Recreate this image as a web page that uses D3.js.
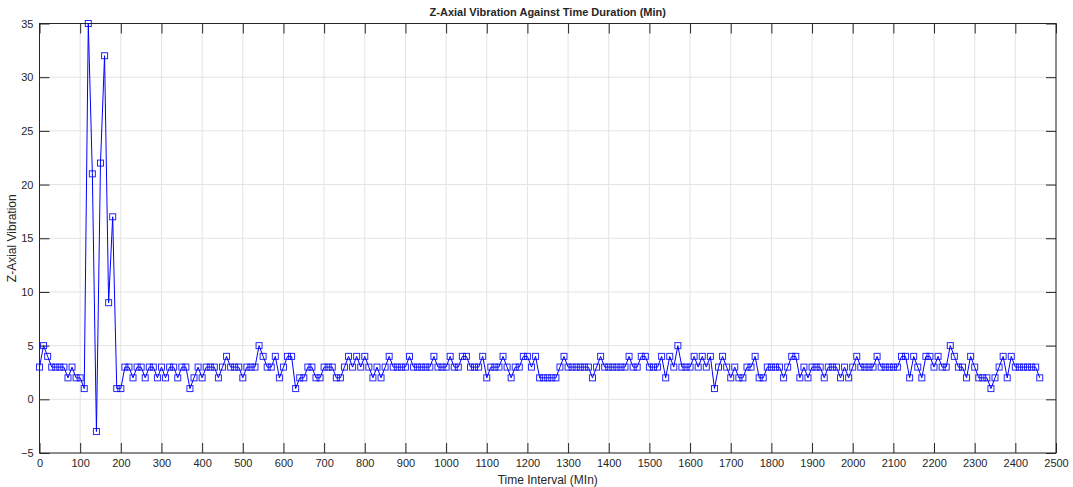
<!DOCTYPE html>
<html>
<head>
<meta charset="utf-8">
<script src="https://cdn.jsdelivr.net/npm/d3@7"></script>
<style>
  body { margin: 0; background: #fff; }
  svg text { font-family: "Liberation Sans", Arial, sans-serif; fill: #262626; }
</style>
</head>
<body>
<svg id="chart" width="1073" height="487"></svg>
<script>
// time of each sample (min)
const timeMin = [
  0, 10, 20, 30, 40, 50, 60, 70, 80, 90,
  100, 110, 120, 130, 140, 150, 160, 170, 180, 190,
  200, 210, 220, 230, 240, 250, 260, 270, 280, 290,
  300, 310, 320, 330, 340, 350, 360, 370, 380, 390,
  400, 410, 420, 430, 440, 450, 460, 470, 480, 490,
  500, 510, 520, 530, 540, 550, 560, 570, 580, 590,
  600, 610, 620, 630, 640, 650, 660, 670, 680, 690,
  700, 710, 720, 730, 740, 750, 760, 770, 780, 790,
  800, 810, 820, 830, 840, 850, 860, 870, 880, 890,
  900, 910, 920, 930, 940, 950, 960, 970, 980, 990,
  1000, 1010, 1020, 1030, 1040, 1050, 1060, 1070, 1080, 1090,
  1100, 1110, 1120, 1130, 1140, 1150, 1160, 1170, 1180, 1190,
  1200, 1210, 1220, 1230, 1240, 1250, 1260, 1270, 1280, 1290,
  1300, 1310, 1320, 1330, 1340, 1350, 1360, 1370, 1380, 1390,
  1400, 1410, 1420, 1430, 1440, 1450, 1460, 1470, 1480, 1490,
  1500, 1510, 1520, 1530, 1540, 1550, 1560, 1570, 1580, 1590,
  1600, 1610, 1620, 1630, 1640, 1650, 1660, 1670, 1680, 1690,
  1700, 1710, 1720, 1730, 1740, 1750, 1760, 1770, 1780, 1790,
  1800, 1810, 1820, 1830, 1840, 1850, 1860, 1870, 1880, 1890,
  1900, 1910, 1920, 1930, 1940, 1950, 1960, 1970, 1980, 1990,
  2000, 2010, 2020, 2030, 2040, 2050, 2060, 2070, 2080, 2090,
  2100, 2110, 2120, 2130, 2140, 2150, 2160, 2170, 2180, 2190,
  2200, 2210, 2220, 2230, 2240, 2250, 2260, 2270, 2280, 2290,
  2300, 2310, 2320, 2330, 2340, 2350, 2360, 2370, 2380, 2390,
  2400, 2410, 2420, 2430, 2440, 2450, 2460
];

// z-axial vibration reading at each sample
const zVibration = [
  3, 5, 4, 3, 3, 3, 3, 2, 3, 2,
  2, 1, 35, 21, -3, 22, 32, 9, 17, 1,
  1, 3, 3, 2, 3, 3, 2, 3, 3, 2,
  3, 2, 3, 3, 2, 3, 3, 1, 2, 3,
  2, 3, 3, 3, 2, 3, 4, 3, 3, 3,
  2, 3, 3, 3, 5, 4, 3, 3, 4, 2,
  3, 4, 4, 1, 2, 2, 3, 3, 2, 2,
  3, 3, 3, 2, 2, 3, 4, 3, 4, 3,
  4, 3, 2, 3, 2, 3, 4, 3, 3, 3,
  3, 4, 3, 3, 3, 3, 3, 4, 3, 3,
  3, 4, 3, 3, 4, 4, 3, 3, 3, 4,
  2, 3, 3, 3, 4, 3, 2, 3, 3, 4,
  4, 3, 4, 2, 2, 2, 2, 2, 3, 4,
  3, 3, 3, 3, 3, 3, 2, 3, 4, 3,
  3, 3, 3, 3, 3, 4, 3, 3, 4, 4,
  3, 3, 3, 4, 2, 4, 3, 5, 3, 3,
  3, 4, 3, 4, 3, 4, 1, 3, 4, 3,
  2, 3, 2, 2, 3, 3, 4, 2, 2, 3,
  3, 3, 3, 2, 3, 4, 4, 2, 3, 2,
  3, 3, 3, 2, 3, 3, 3, 2, 3, 2,
  3, 4, 3, 3, 3, 3, 4, 3, 3, 3,
  3, 3, 4, 4, 2, 4, 3, 2, 4, 4,
  3, 4, 3, 3, 5, 4, 3, 3, 2, 4,
  3, 2, 2, 2, 1, 2, 3, 4, 2, 4,
  3, 3, 3, 3, 3, 3, 2
];

const xTickValues = [0, 100, 200, 300, 400, 500, 600, 700, 800, 900, 1000, 1100, 1200,
  1300, 1400, 1500, 1600, 1700, 1800, 1900, 2000, 2100, 2200, 2300, 2400, 2500];
const yTickValues = [-5, 0, 5, 10, 15, 20, 25, 30, 35];

const margin = { top: 23.5, right: 17, bottom: 34, left: 39.5 };
const width = 1073 - margin.left - margin.right;
const height = 487 - margin.top - margin.bottom;

let svg = d3.select("#chart");
let g = svg.append("g").attr("transform", `translate(${margin.left}, ${margin.top})`);

let xScale = d3.scaleLinear().domain([0, 2500]).range([0, width]);
let yScale = d3.scaleLinear().domain([-5, 35]).range([height, 0]);

// grid lines
g.append("g")
  .selectAll("line.vgrid")
  .data(xTickValues)
  .join("line")
  .attr("x1", d => xScale(d)).attr("x2", d => xScale(d))
  .attr("y1", 0).attr("y2", height)
  .attr("stroke", "#e3e3e3").attr("stroke-width", 1);

g.append("g")
  .selectAll("line.hgrid")
  .data(yTickValues)
  .join("line")
  .attr("x1", 0).attr("x2", width)
  .attr("y1", d => yScale(d)).attr("y2", d => yScale(d))
  .attr("stroke", "#e3e3e3").attr("stroke-width", 1);

// axes, ticks pointing inward like matlab
let fmt = d3.format("d");
let xAxis = d3.axisBottom(xScale).tickValues(xTickValues).tickFormat(fmt).tickSizeInner(-10).tickSizeOuter(0).tickPadding(6);
let yAxis = d3.axisLeft(yScale).tickValues(yTickValues).tickFormat(fmt).tickSizeInner(-10).tickSizeOuter(0).tickPadding(6);
let xTop = d3.axisTop(xScale).tickValues(xTickValues).tickSizeInner(-10).tickSizeOuter(0).tickFormat("");
let yRight = d3.axisRight(yScale).tickValues(yTickValues).tickSizeInner(-10).tickSizeOuter(0).tickFormat("");

let axes = [
  g.append("g").attr("transform", `translate(0, ${height})`).call(xAxis),
  g.append("g").call(yAxis),
  g.append("g").call(xTop),
  g.append("g").attr("transform", `translate(${width}, 0)`).call(yRight)
];
axes.forEach(a => {
  a.select(".domain").remove();
  a.selectAll(".tick line").attr("stroke", "#262626");
  a.selectAll(".tick text").style("font-size", "11px").attr("fill", "#262626");
});

// box
g.append("rect")
  .attr("width", width).attr("height", height)
  .attr("fill", "none").attr("stroke", "#262626").attr("stroke-width", 1);

// the series
let points = timeMin.map((t, i) => ({ t: t, v: zVibration[i] }));

let lineGen = d3.line()
  .x(d => xScale(d.t))
  .y(d => yScale(d.v));

g.append("path")
  .attr("d", lineGen(points))
  .attr("fill", "none")
  .attr("stroke", "#0000ff")
  .attr("stroke-width", 1);

g.append("g")
  .selectAll("rect")
  .data(points)
  .join("rect")
  .attr("x", d => xScale(d.t) - 3)
  .attr("y", d => yScale(d.v) - 3)
  .attr("width", 6).attr("height", 6)
  .attr("fill", "none")
  .attr("stroke", "#0000ff")
  .attr("stroke-opacity", 0.85)
  .attr("stroke-width", 1);

// titles
svg.append("text")
  .attr("x", margin.left + width / 2).attr("y", 16)
  .attr("text-anchor", "middle")
  .style("font-size", "11px").style("font-weight", "bold")
  .attr("fill", "#000")
  .text("Z-Axial Vibration Against Time Duration (Min)");

svg.append("text")
  .attr("x", margin.left + width / 2).attr("y", 484)
  .attr("text-anchor", "middle")
  .style("font-size", "12px")
  .text("Time Interval (MIn)");

svg.append("text")
  .attr("transform", `translate(16, ${margin.top + height / 2}) rotate(-90)`)
  .attr("text-anchor", "middle")
  .style("font-size", "12px")
  .text("Z-Axial Vibration");
</script>
</body>
</html>
